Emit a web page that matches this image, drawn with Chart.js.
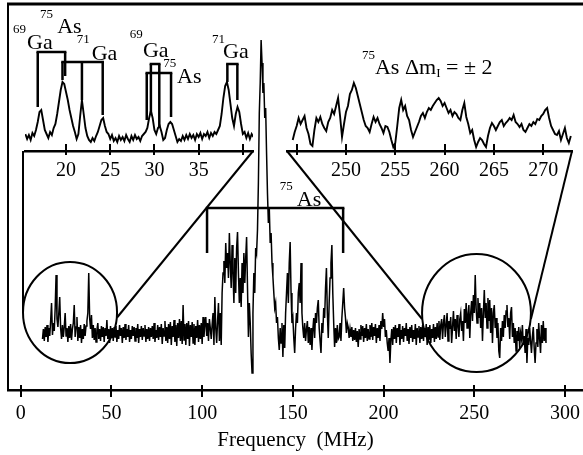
<!DOCTYPE html>
<html><head><meta charset="utf-8">
<script src="https://cdn.jsdelivr.net/npm/chart.js@4"></script>
<style>
html,body{margin:0;padding:0;background:#fff;}
#wrap{position:relative;width:583px;height:455px;overflow:hidden;background:#fff;}
canvas{position:absolute;}
</style></head><body>
<div id="wrap">
<canvas id="main" width="583" height="455" style="left:0;top:0"></canvas>
<canvas id="insL" width="262" height="200" style="left:0;top:0"></canvas>
<canvas id="insR" width="303" height="200" style="left:280px;top:0"></canvas>
</div>
<script>
// ---------------- DATA ----------------
// Main spectrum: frequency (MHz) sampled every 0.5 MHz from 12 MHz, intensity (arb. units)
const mainStart = 12, mainStep = 0.5;
const mainValues = [
 -6,4,-8,6,-4,8,-9,5,-3,12,30,-2,10,2,25,58,14,6,20,36,
 5,-6,8,-4,6,20,-3,5,-9,7,-5,9,-7,4,10,28,-4,6,16,-8,
 6,-5,8,-10,4,-6,9,-3,7,12,20,60,15,4,18,-5,8,-7,5,-9,
 3,10,-6,4,-8,7,-4,6,-9,5,-3,13,-6,4,-10,7,-5,5,-8,6,
 -4,7,-9,3,-6,8,-3,5,-10,6,-5,9,-7,4,-4,8,-9,3,-6,7,
 -3,6,-8,5,-5,9,-10,4,-4,7,-7,5,-3,8,-9,4,-6,6,-8,5,
 -4,7,-6,10,-9,3,-5,8,-7,6,-4,9,-11,5,-3,12,-8,6,-10,9,
 -6,11,-12,7,-4,13,-9,8,-13,10,-5,14,-8,12,-11,28,-7,9,-12,10,
 -6,12,-13,8,-4,11,-10,9,-12,7,-5,13,-9,8,-6,10,-11,16,-4,9,
 16,-3,10,-8,14,5,-6,8,20,-12,36,5,-10,12,30,-8,20,-12,40,60,
 72,50,90,65,80,55,100,70,45,88,60,30,75,40,85,101,60,30,55,26,
 70,40,80,50,75,96,45,-4,30,10,-20,-40,20,60,40,85,80,103,150,220,
 250,293,270,240,250,215,225,180,140,110,125,90,100,70,56,40,25,30,10,16,
 -5,-17,5,-10,10,-24,8,-15,20,40,60,30,70,91,40,10,15,-5,-20,5,
 20,10,40,50,30,70,20,5,-5,10,-8,4,12,-10,6,-12,5,-17,3,15,
 -5,20,10,25,33,5,-8,-20,10,0,25,15,45,65,20,-5,30,55,70,88,
 40,10,-14,5,-10,8,-6,-4,10,-8,15,30,45,25,15,0,10,6,-5,4,
 -4,6,-8,3,-7,5,-9,2,-14,4,-6,8,-3,7,-9,5,-5,9,-8,4,
 -6,8,-4,10,-7,6,-3,9,-10,5,-5,8,-8,12,4,20,6,14,-4,3,
 -10,-18,-5,-30,-8,4,-12,6,-6,8,-10,5,-4,9,-12,3,-6,7,-9,5,
 -3,10,-8,4,-11,6,-5,8,-9,3,-6,9,-12,5,-4,7,-10,6,-6,8,
 -8,5,-4,9,-12,6,-7,8,-10,4,-5,9,-9,6,-6,10,-4,12,-7,8,
 14,-6,10,18,-4,8,20,-8,12,4,16,-10,6,22,2,14,-6,18,8,-4,
 14,20,2,12,-8,24,10,30,5,18,28,-5,20,32,12,38,20,58,25,10,
 35,15,30,5,25,-8,20,43,15,30,5,35,12,33,0,25,-10,20,28,5,
 15,-5,10,-18,-25,5,-8,12,-4,18,5,22,28,6,15,-6,20,26,-4,10,
 -10,5,-18,2,-8,6,-15,0,-6,8,-12,-3,-20,4,-30,-5,-12,5,-8,-20,
 -4,6,-15,-30,-10,4,-14,10,-6,-20,8,-10,12,-8,5,-10
];
// Left inset (15-41 MHz), every 0.2 MHz
const insetLStart = 15.4, insetLStep = 0.2;
const insetLValues = [
 2,-3,1,-4,3,0,6,14,24,26,16,6,2,-2,4,1,8,12,22,34,
 46,54,52,44,36,26,18,10,4,-3,2,20,36,22,8,0,-4,-6,-2,-5,
 0,4,10,16,18,10,4,2,-3,1,-5,-2,-6,0,-4,-1,-5,1,-3,-6,
 0,-4,1,-3,-1,-5,0,2,4,8,18,25,18,6,2,8,10,4,-4,-2,
 6,12,14,12,6,0,-6,-3,-5,0,-4,1,-3,2,-2,1,-4,2,-1,3,
 -3,2,0,4,-2,3,0,4,2,6,10,22,38,50,54,46,32,18,10,22,
 29,24,12,2,4,-2,3,-3,2,-1
];
// Right inset (244-273 MHz), every 0.2 MHz
const insetRStart = 244.6, insetRStep = 0.2;
const insetRValues = [
 -4,4,10,18,12,16,20,8,2,-8,
 -10,6,18,14,19,12,8,5,14,18,
 26,22,30,38,20,-1,12,24,30,42,
 46,53,48,40,32,24,16,10,8,4,
 12,19,14,18,12,8,3,10,9,4,
 -4,-11,-7,10,28,36,26,30,20,16,
 6,-1,4,9,14,20,23,18,24,28,
 26,30,33,36,38,35,30,33,28,23,
 26,20,24,22,18,16,26,33,19,12,
 3,6,-4,-11,-6,-2,-4,-8,-11,0,
 8,13,10,6,10,14,16,10,13,15,
 18,16,21,14,12,9,12,6,4,8,
 12,10,14,12,17,16,20,22,26,28,
 18,10,6,2,1,5,-4,2,8,-2,
 -7,0
];
// Tick values and labels
const mainTicks = [0, 50, 100, 150, 200, 250, 300];
const mainTickLabels = ['0', '50', '100', '150', '200', '250', '300'];
const insetLTicks = [20, 25, 30, 35, 40];
const insetLTickLabels = ['20', '25', '30', '35', ''];
const insetRTicks = [245, 250, 255, 260, 265, 270];
const insetRTickLabels = ['', '250', '255', '260', '265', '270'];
// Assignment brackets (frequencies of legs, MHz) and their names
const mainBracketLegs = [102.7, 177.7];
const insetLBracketLegs = [[16.8, 19.9], [19.6, 21.8, 24.15], [29.6, 30.55], [29.13, 31.88], [38.25, 39.38]];
const insetLBracketNames = [['69','Ga'], ['75','As'], ['71','Ga'], ['69','Ga'], ['75','As'], ['71','Ga']];

// ---------------- LAYOUT / STYLE (annotation geometry, not data) ----------------
const FONT = '"Liberation Serif", "Times New Roman", serif';
Chart.defaults.font.family = FONT;
Chart.defaults.color = '#000';
const mainBracketGeom = {top: 125, end: 80};
const insetLBracketGeom = [
  {top: 84, ends: [29, 60]},
  {top: 74, ends: [56, 36, 21]},
  {top: 72, ends: [21, 8]},
  {top: 63, ends: [16, 19]},
  {top: 72, ends: [54, 36]}
];
// label anchor positions in inset units: [supX, supY, elX, elY]
const insetLLabelPos = [
  [14.0, 103, 15.6, 87],
  [17.06, 118, 19.0, 103],
  [21.2, 93, 22.9, 76],
  [27.2, 98, 28.7, 79],
  [31.0, 69, 32.56, 53],
  [36.5, 93, 37.76, 78]
];
const loupeL = [1.27, 53.1, 71, -30];
const loupeR = [221.2, 281.2, 79, -39];
const insetLOffset = [0, 0], insetROffset = [280, 0];

function series(start, step, vals) {
  return vals.map((v, i) => ({x: +(start + i * step).toFixed(2), y: v}));
}
function line(ctx, x1, y1, x2, y2, w) {
  ctx.save(); ctx.strokeStyle = '#000'; ctx.lineWidth = w; ctx.lineCap = 'butt';
  ctx.beginPath(); ctx.moveTo(x1, y1); ctx.lineTo(x2, y2); ctx.stroke(); ctx.restore();
}
function crossTicks(chart, vals, up, down) {
  const s = chart.scales.x, y = chart.chartArea.bottom;
  vals.forEach(v => { const x = Math.round(s.getPixelForValue(v)); line(chart.ctx, x, y - up, x, y + down, 2); });
}
function txt(ctx, s, x, y, size) {
  ctx.save(); ctx.fillStyle = '#000'; ctx.font = size + 'px ' + FONT;
  ctx.textAlign = 'left'; ctx.textBaseline = 'alphabetic'; ctx.fillText(s, x, y);
  const w = ctx.measureText(s).width; ctx.restore(); return w;
}
function bracket(chart, legs, top, ends, w) {
  const xs = chart.scales.x, ys = chart.scales.y, ctx = chart.ctx;
  const yt = ys.getPixelForValue(top);
  line(ctx, xs.getPixelForValue(Math.min(...legs)) - w / 2, yt, xs.getPixelForValue(Math.max(...legs)) + w / 2, yt, w);
  legs.forEach((f, i) => { const x = xs.getPixelForValue(f); line(ctx, x, yt, x, ys.getPixelForValue(ends[i]), w); });
}
function baseOptions(xmin, xmax, ymin, ymax, pad, ticks, labels, fitH, tickPad, title) {
  return {
    responsive: false, animation: false, devicePixelRatio: 1, events: [],
    layout: {padding: pad},
    plugins: {legend: {display: false}, tooltip: {enabled: false}},
    scales: {
      x: {
        type: 'linear', min: xmin, max: xmax,
        afterBuildTicks: s => { s.ticks = ticks.map(v => ({value: v})); },
        afterFit: s => { s.height = fitH; s.paddingLeft = 0; s.paddingRight = 0; },
        grid: {display: false, drawTicks: false},
        border: {display: true, color: '#000', width: 2.5},
        ticks: {autoSkip: false, maxRotation: 0, padding: tickPad, color: '#000',
                font: {size: 20, family: FONT}, callback: (v, i) => labels[i]},
        title: title
      },
      y: {display: false, min: ymin, max: ymax}
    }
  };
}

// ---------------- LEFT INSET ----------------
const chartL = new Chart(document.getElementById('insL'), {
  type: 'line',
  data: {datasets: [{data: series(insetLStart, insetLStep, insetLValues), borderColor: '#000',
         borderWidth: 1.9, pointRadius: 0, tension: 0, fill: false}]},
  options: baseOptions(15.36, 41.15, -15, 136, {left: 25, right: 9, top: 0, bottom: 0},
                       insetLTicks, insetLTickLabels, 49, 8, {display: false}),
  plugins: [{id: 'insL', afterDraw(chart) {
    crossTicks(chart, insetLTicks, 7, 4);
    insetLBracketLegs.forEach((legs, i) => bracket(chart, legs, insetLBracketGeom[i].top, insetLBracketGeom[i].ends, 2.5));
    const xs = chart.scales.x, ys = chart.scales.y;
    insetLBracketNames.forEach((n, i) => {
      const p = insetLLabelPos[i];
      txt(chart.ctx, n[0], xs.getPixelForValue(p[0]), ys.getPixelForValue(p[1]), 13);
      txt(chart.ctx, n[1], xs.getPixelForValue(p[2]), ys.getPixelForValue(p[3]), 22);
    });
  }}]
});

// ---------------- RIGHT INSET ----------------
const chartR = new Chart(document.getElementById('insR'), {
  type: 'line',
  data: {datasets: [{data: series(insetRStart, insetRStep, insetRValues), borderColor: '#000',
         borderWidth: 1.9, pointRadius: 0, tension: 0, fill: false}]},
  options: baseOptions(244.02, 272.92, -15, 136, {left: 7, right: 11, top: 0, bottom: 0},
                       insetRTicks, insetRTickLabels, 49, 8, {display: false}),
  plugins: [{id: 'insR', afterDraw(chart) {
    crossTicks(chart, insetRTicks, 7, 4);
    const xs = chart.scales.x, ys = chart.scales.y, ctx = chart.ctx;
    txt(ctx, '75', xs.getPixelForValue(251.62), ys.getPixelForValue(77), 13);
    let x = xs.getPixelForValue(252.94); const yb = ys.getPixelForValue(62);
    x += txt(ctx, 'As \u0394m', x, yb, 22);
    x += txt(ctx, 'I', x, yb + 3, 13);
    txt(ctx, ' = \u00b1 2', x, yb, 22);
  }}]
});

// ---------------- MAIN ----------------
new Chart(document.getElementById('main'), {
  type: 'line',
  data: {datasets: [{data: series(mainStart, mainStep, mainValues), borderColor: '#000',
         borderWidth: 1.5, pointRadius: 0, tension: 0, fill: false}]},
  options: baseOptions(-7.0, 309.9, -57, 329, {left: 8, right: 0, top: 4, bottom: 0},
                       mainTicks, mainTickLabels, 65, 12,
                       {display: true, text: 'Frequency  (MHz)', color: '#000',
                        font: {size: 21, family: FONT}, padding: {top: 0, bottom: 2}}),
  plugins: [{id: 'mainDeco', afterDraw(chart) {
    const ctx = chart.ctx, a = chart.chartArea, xs = chart.scales.x, ys = chart.scales.y;
    // frame (top + left)
    line(ctx, a.left - 1, a.top, a.right, a.top, 3);
    line(ctx, a.left, a.top, a.left, a.bottom, 2);
    crossTicks(chart, mainTicks, 5, 7);
    // 75As bracket
    bracket(chart, mainBracketLegs, mainBracketGeom.top, [mainBracketGeom.end, mainBracketGeom.end], 2.5);
    txt(ctx, '75', xs.getPixelForValue(142.8), ys.getPixelForValue(143), 13);
    txt(ctx, 'As', xs.getPixelForValue(152.2), ys.getPixelForValue(127), 22);
    // loupes
    const ell = b => {
      const x1 = xs.getPixelForValue(b[0]), x2 = xs.getPixelForValue(b[1]);
      const y1 = ys.getPixelForValue(b[2]), y2 = ys.getPixelForValue(b[3]);
      const cx = (x1 + x2) / 2, cy = (y1 + y2) / 2;
      ctx.save(); ctx.strokeStyle = '#000'; ctx.lineWidth = 2;
      ctx.beginPath(); ctx.ellipse(cx, cy, Math.abs(x2 - x1) / 2, Math.abs(y2 - y1) / 2, 0, 0, 2 * Math.PI);
      ctx.stroke(); ctx.restore();
      return {l: x1, r: x2, cy: cy};
    };
    const eL = ell(loupeL), eR = ell(loupeR);
    // connectors from inset axes to loupes
    const aL = chartL.chartArea, aR = chartR.chartArea;
    line(ctx, aL.left + insetLOffset[0] - 2, aL.bottom + insetLOffset[1], eL.l, eL.cy, 2);
    line(ctx, aL.right + insetLOffset[0], aL.bottom + insetLOffset[1], eL.r, eL.cy + 5, 2);
    line(ctx, aR.left + insetROffset[0], aR.bottom + insetROffset[1], eR.l, eR.cy + 6, 2);
    line(ctx, aR.right + insetROffset[0], aR.bottom + insetROffset[1], eR.r, eR.cy + 6, 2);
  }}]
});
</script>
</body></html>
